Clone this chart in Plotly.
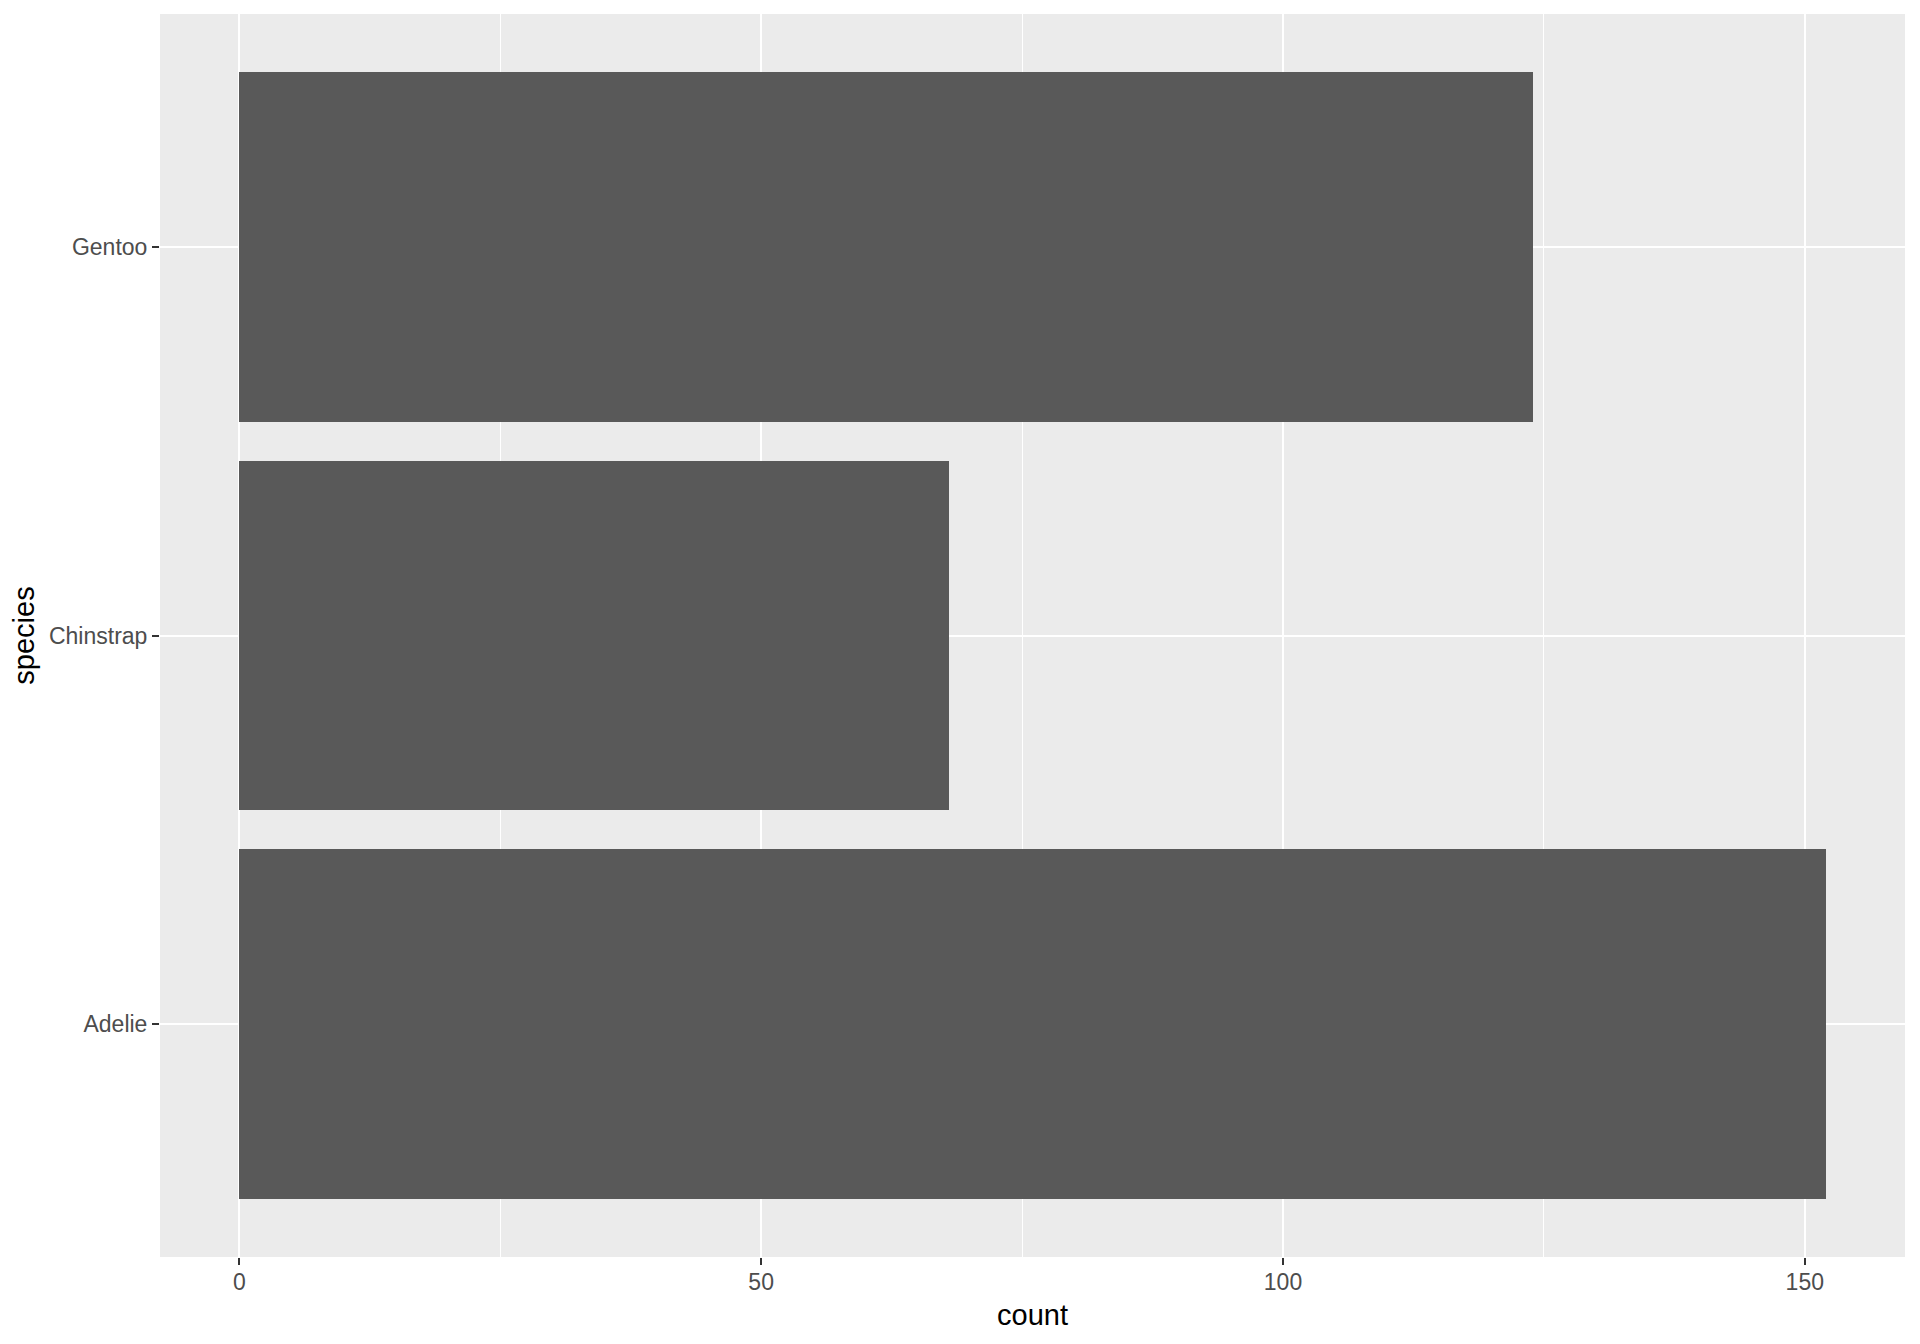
import plotly.graph_objects as go

# penguin counts by species
species = ["Adelie", "Chinstrap", "Gentoo"]
count = [152, 68, 124]

x_ticks = [0, 50, 100, 150]

fig = go.Figure()
fig.add_trace(go.Bar(
    x=count, y=species, orientation="h",
    width=0.9,
    marker=dict(color="#595959", line=dict(width=0)),
))

font_family = "Liberation Sans, Arial, sans-serif"

# the page body adds 8px on the left/top, so the figure is a bit smaller
fig.update_layout(
    width=1904, height=1328, autosize=False,
    margin=dict(l=152, r=7, t=6, b=79),
    paper_bgcolor="white",
    plot_bgcolor="#EBEBEB",
    showlegend=False,
    font=dict(family=font_family),
    bargap=0,
)

fig.update_xaxes(
    range=[-7.6, 159.6],
    tickvals=x_ticks,
    ticks="outside", ticklen=7, tickwidth=2, tickcolor="#333333",
    tickfont=dict(size=23, color="#4D4D4D"),
    ticklabelstandoff=-3,
    showgrid=True, gridcolor="white", gridwidth=2,
    minor=dict(dtick=25, tick0=0, showgrid=True, gridcolor="white", gridwidth=1),
    zeroline=False, showline=False,
    title=dict(text="count", font=dict(size=29, color="black"), standoff=11),
)

fig.update_yaxes(
    categoryorder="array", categoryarray=species,
    range=[-0.6, 2.6],
    ticks="outside", ticklen=7, tickwidth=2, tickcolor="#333333",
    tickfont=dict(size=23, color="#4D4D4D"),
    showgrid=True, gridcolor="white", gridwidth=2,
    zeroline=False, showline=False,
    title=dict(text="species", font=dict(size=29, color="black"), standoff=6),
)

fig.write_html("out.html")
